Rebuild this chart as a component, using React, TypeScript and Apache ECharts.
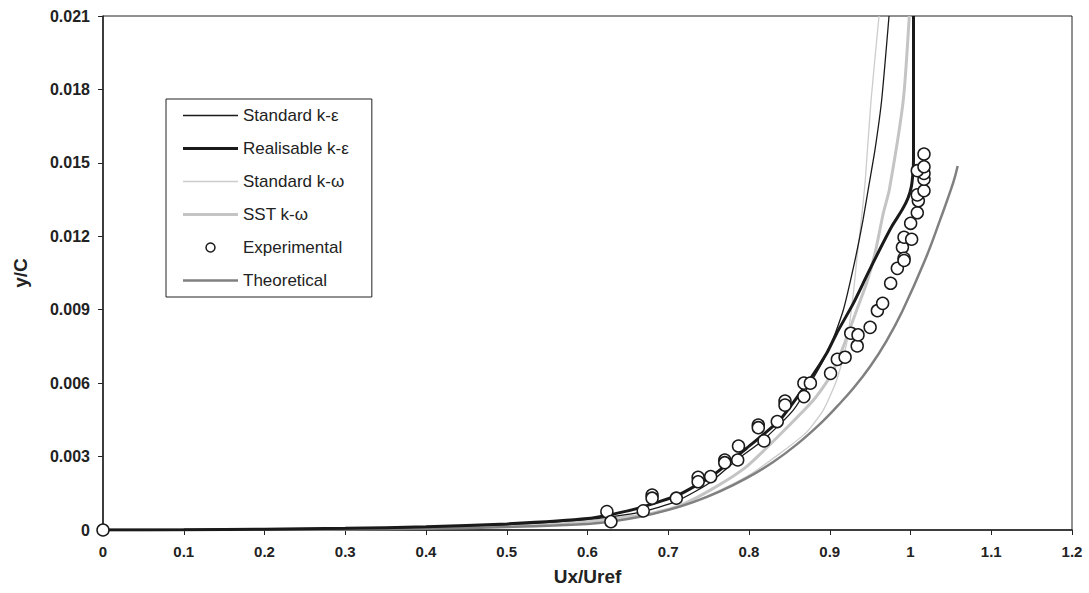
import React, { useEffect, useRef } from "react";
import * as echarts from "echarts";

const xTicks = { min: 0, max: 1.2, interval: 0.1 };
const yTicks = { min: 0, max: 0.021, interval: 0.003 };

const standardKE: number[][] = [
  [0, 0], [0.2, 0.00003], [0.3, 0.00006], [0.4, 0.00012], [0.5, 0.00022], [0.6, 0.00043],
  [0.665, 0.00072], [0.7105, 0.00118], [0.75, 0.0019], [0.7847, 0.00286], [0.8177, 0.00368],
  [0.8549, 0.0049], [0.8796, 0.0062], [0.9003, 0.00749], [0.9168, 0.00899], [0.9313, 0.01103],
  [0.9412, 0.01267], [0.9486, 0.0141], [0.956, 0.01553], [0.9643, 0.01757], [0.9734, 0.021],
];

const realisableKE: number[][] = [
  [0, 0], [0.1, 0.00001], [0.2, 0.00003], [0.3, 0.00007], [0.4, 0.00013], [0.5, 0.00025],
  [0.6, 0.00047], [0.65, 0.00078], [0.7105, 0.0014], [0.7558, 0.00225], [0.797, 0.00334],
  [0.838, 0.00449], [0.8776, 0.00626], [0.8962, 0.00722], [0.9086, 0.00804], [0.9292, 0.00926],
  [0.9457, 0.01038], [0.9622, 0.01148], [0.9771, 0.01242], [0.9895, 0.01307], [0.9969, 0.01356],
  [1.0012, 0.01405], [1.0031, 0.01463], [1.0037, 0.01512], [1.0037, 0.021],
];

const standardKW: number[][] = [
  [0, 0], [0.2, 0.00002], [0.3, 0.00005], [0.4, 0.0001], [0.5, 0.0002], [0.6, 0.00036],
  [0.673, 0.00061], [0.7145, 0.00095], [0.7558, 0.0015], [0.797, 0.00218], [0.8384, 0.00313],
  [0.8714, 0.004], [0.892, 0.0049], [0.9086, 0.00613], [0.921, 0.00763], [0.929, 0.0096],
  [0.934, 0.0112], [0.9395, 0.0128], [0.944, 0.0143], [0.951, 0.0175], [0.961, 0.021],
];

const sstKW: number[][] = [
  [0, 0], [0.2, 0.00002], [0.3, 0.00005], [0.4, 0.0001], [0.5, 0.0002], [0.6, 0.00036],
  [0.6733, 0.00064], [0.7145, 0.001], [0.7558, 0.0017], [0.797, 0.00259], [0.8384, 0.0039],
  [0.8796, 0.0053], [0.9003, 0.00626], [0.9168, 0.00749], [0.9334, 0.00899], [0.9458, 0.0101],
  [0.956, 0.0113], [0.9663, 0.01294], [0.9737, 0.01389], [0.9911, 0.01757], [0.9985, 0.021],
];

const theoretical: number[][] = [
  [0, 0], [0.1, 0.000005], [0.2, 0.00001], [0.3, 0.00002], [0.4, 0.00005], [0.5, 0.00012],
  [0.6, 0.00025], [0.632, 0.00036], [0.665, 0.00054], [0.698, 0.0008], [0.731, 0.00114],
  [0.764, 0.00158], [0.797, 0.00212], [0.83, 0.00278], [0.86, 0.00352], [0.89, 0.0044],
  [0.91, 0.00508], [0.93, 0.00582], [0.95, 0.00668], [0.97, 0.00771], [0.99, 0.00895],
  [1.018, 0.01103], [1.037, 0.0127], [1.053, 0.0142], [1.0584, 0.01487],
];

const experimental: number[][] = [
  [0, 0],
  [0.624, 0.00075], [0.629, 0.00034], [0.669, 0.00078], [0.68, 0.00143], [0.68, 0.0013],
  [0.71, 0.0013], [0.737, 0.00215], [0.737, 0.00197], [0.7525, 0.00218], [0.77, 0.00286],
  [0.77, 0.00275], [0.786, 0.00286], [0.787, 0.00343], [0.8115, 0.00429], [0.8115, 0.00418],
  [0.8186, 0.00364], [0.835, 0.00443], [0.8446, 0.00527], [0.8446, 0.0051], [0.868, 0.006],
  [0.876, 0.006], [0.868, 0.00545], [0.901, 0.0064], [0.9094, 0.00697], [0.919, 0.00706],
  [0.926, 0.00804], [0.934, 0.00752], [0.935, 0.00797], [0.95, 0.00828], [0.959, 0.00896],
  [0.9655, 0.00926], [0.9754, 0.01008], [0.9837, 0.01069], [0.99, 0.01155], [0.992, 0.0111],
  [0.992, 0.01101], [0.992, 0.01196], [1.0014, 0.01188], [1.0002, 0.01253], [1.0084, 0.01296],
  [1.0097, 0.01345], [1.0084, 0.01369], [1.0167, 0.01386], [1.0167, 0.01433], [1.0167, 0.01457],
  [1.0084, 0.01468], [1.0167, 0.01484], [1.0167, 0.01536],
];

const seriesNames = [
  "Standard k-\u03b5",
  "Realisable k-\u03b5",
  "Standard k-\u03c9",
  "SST k-\u03c9",
  "Experimental",
  "Theoretical",
];

const FONT = "'Liberation Sans', Arial, Helvetica, sans-serif";

const barIcon = (h: number) => `path://M0,0L55,0L55,${h}L0,${h}Z`;

export default function App() {
  const ref = useRef<HTMLDivElement>(null);

  useEffect(() => {
    if (!ref.current) return;
    const chart = echarts.init(ref.current, null, { renderer: "svg" });

    const lineSeries = (name: string, data: number[][], color: string, width: number, z: number, smooth = 0.2) => ({
      name,
      type: "line",
      data,
      symbol: "none",
      smooth,
      clip: true,
      z,
      lineStyle: { color, width },
      itemStyle: { color, borderWidth: 0 },
    });

    chart.setOption({
      animation: false,
      backgroundColor: "#ffffff",
      textStyle: { fontFamily: FONT },
      grid: {
        left: 103,
        top: 16,
        right: 17,
        bottom: 63,
        show: true,
        borderColor: "#222",
        borderWidth: 1,
        containLabel: false,
      },
      legend: {
        orient: "vertical",
        left: 166,
        top: 99,
        data: [
          { name: seriesNames[0], icon: barIcon(1.3), itemStyle: { color: "#1a1a1a", borderWidth: 0 } },
          { name: seriesNames[1], icon: barIcon(3), itemStyle: { color: "#1a1a1a", borderWidth: 0 } },
          { name: seriesNames[2], icon: barIcon(1.3), itemStyle: { color: "#cccccc", borderWidth: 0 } },
          { name: seriesNames[3], icon: barIcon(3), itemStyle: { color: "#c4c4c4", borderWidth: 0 } },
          { name: seriesNames[4], icon: "circle", itemStyle: { color: "#ffffff", borderColor: "#1a1a1a", borderWidth: 1.5, opacity: 1 } },
          { name: seriesNames[5], icon: barIcon(2.6), itemStyle: { color: "#808080", borderWidth: 0 } },
        ],
        selectedMode: false,
        symbolKeepAspect: true,
        backgroundColor: "#fff",
        borderColor: "#222",
        borderWidth: 1,
        padding: [8, 23, 8, 17],
        itemWidth: 55,
        itemHeight: 9,
        itemGap: 16,
        textStyle: { fontSize: 17, color: "#222", fontFamily: FONT },
      },
      xAxis: {
        type: "value",
        min: xTicks.min,
        max: xTicks.max,
        interval: xTicks.interval,
        name: "Ux/Uref",
        nameLocation: "middle",
        nameGap: 37,
        nameTextStyle: { fontSize: 19, fontWeight: "bold", color: "#222", fontFamily: FONT },
        axisLine: { lineStyle: { color: "#222", width: 1.5 } },
        axisTick: { show: true, inside: false, length: 5, lineStyle: { color: "#222", width: 1 } },
        axisLabel: {
          fontSize: 15,
          fontWeight: "bold",
          color: "#222",
          margin: 14,
          fontFamily: FONT,
          formatter: (v: number) => String(Number(v.toFixed(1))),
        },
        splitLine: { show: false },
      },
      yAxis: {
        type: "value",
        min: yTicks.min,
        max: yTicks.max,
        interval: yTicks.interval,
        name: "y/C",
        nameLocation: "middle",
        nameGap: 73,
        nameTextStyle: { fontSize: 19, fontWeight: "bold", color: "#222", fontFamily: FONT },
        axisLine: { lineStyle: { color: "#222", width: 1.5 } },
        axisTick: { show: true, inside: false, length: 5, lineStyle: { color: "#222", width: 1 } },
        axisLabel: {
          fontSize: 16,
          fontWeight: "bold",
          color: "#222",
          margin: 13,
          fontFamily: FONT,
          formatter: (v: number) => (v === 0 ? "0" : v.toFixed(3)),
        },
        splitLine: { show: false },
      },
      series: [
        lineSeries(seriesNames[0], standardKE, "#1a1a1a", 1.3, 4),
        lineSeries(seriesNames[1], realisableKE, "#1a1a1a", 3, 5),
        lineSeries(seriesNames[2], standardKW, "#cccccc", 1.3, 3),
        lineSeries(seriesNames[3], sstKW, "#c4c4c4", 3, 2),
        {
          name: seriesNames[4],
          type: "scatter",
          data: experimental,
          symbol: "circle",
          symbolSize: 12,
          clip: false,
          z: 10,
          itemStyle: { color: "#ffffff", borderColor: "#1a1a1a", borderWidth: 1.5, opacity: 1 },
        },
        lineSeries(seriesNames[5], theoretical, "#808080", 2.5, 3, 0.4),
      ],
    });

    return () => chart.dispose();
  }, []);

  return (
    <div
      ref={ref}
      style={{ position: "fixed", left: 0, top: 0, width: 1089, height: 593, background: "#fff" }}
    />
  );
}
